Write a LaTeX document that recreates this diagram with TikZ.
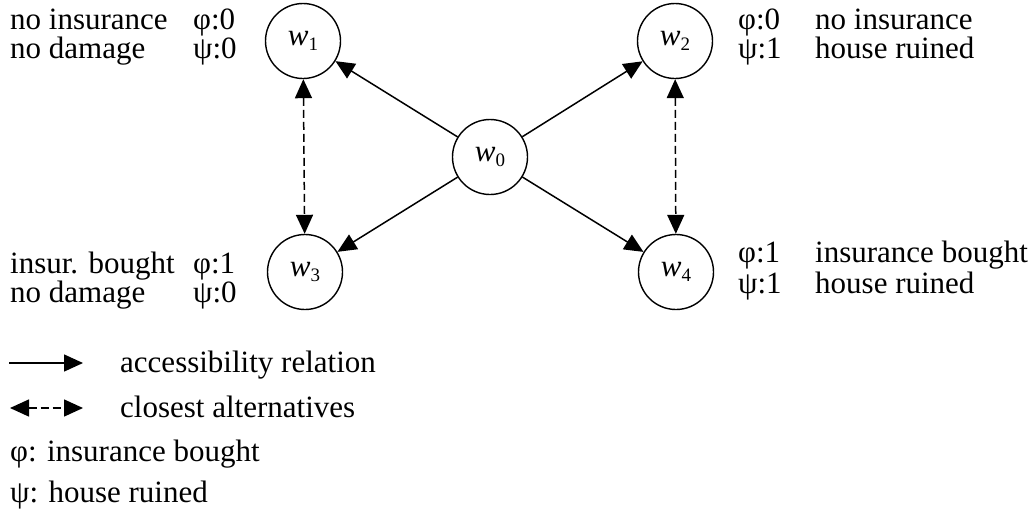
\documentclass[tikz,border=0pt]{standalone}
\usepackage{fontspec}
\setmainfont{Liberation Serif}
\usetikzlibrary{arrows.meta}
\newcommand\wlab[1]{{\fontsize{31}{31}\selectfont\textit{w}\raisebox{-5pt}{\fontsize{19}{19}\selectfont #1}}}
\tikzset{
  world/.style={circle, draw, line width=1.4pt, minimum size=75pt, inner sep=0pt},
  lbl/.style={anchor=base west, inner sep=0pt, font=\fontsize{31}{31}\selectfont},
  acc/.style={-{Triangle[length=19pt,width=17pt]}, line width=1.5pt},
  alt/.style={{Triangle[length=19pt,width=17pt]}-{Triangle[length=19pt,width=17pt]}, line width=1.5pt, dash pattern=on 8pt off 4pt},
}
\begin{document}
\begin{tikzpicture}[x=1pt,y=-1pt]
\useasboundingbox (0,0) rectangle (1035,512);
% worlds
\node[world] (w0) at (490,157) {\wlab{0}};
\node[world] (w1) at (303,41) {\wlab{1}};
\node[world] (w2) at (675,41) {\wlab{2}};
\node[world] (w3) at (305,272) {\wlab{3}};
\node[world] (w4) at (676,272) {\wlab{4}};
% accessibility
\draw[acc] (w0) -- (w1);
\draw[acc] (w0) -- (w2);
\draw[acc] (w0) -- (w3);
\draw[acc] (w0) -- (w4);
% closest alternatives
\draw[alt] (w1) -- (w3);
\draw[alt] (w2) -- (w4);
% labels top left
\node[lbl] (t1a) at (10,29) {no insurance};
\node[lbl] (t1b) at (10,58) {no damage};
\node[lbl] (v1a) at (193,29) {φ:0};
\node[lbl] (v1b) at (193,58) {ψ:0};
% labels top right
\node[lbl] (v2a) at (738,29) {φ:0};
\node[lbl] (v2b) at (738,58) {ψ:1};
\node[lbl] (t2a) at (815,29) {no insurance};
\node[lbl] (t2b) at (815,58) {house ruined};
% labels bottom left
\node[lbl] (t3a) at (10,273) {insur. bought};
\node[lbl] (t3b) at (10,302) {no damage};
\node[lbl] (v3a) at (193,273) {φ:1};
\node[lbl] (v3b) at (193,302) {ψ:0};
% labels bottom right
\node[lbl] (v4a) at (738,262) {φ:1};
\node[lbl] (v4b) at (738,293) {ψ:1};
\node[lbl] (t4a) at (815,262) {insurance bought};
\node[lbl] (t4b) at (815,293) {house ruined};
% legend
\coordinate (la1) at (9,363);
\coordinate (la2) at (83,363);
\coordinate (lb1) at (10,408);
\coordinate (lb2) at (83,408);
\draw[acc] (la1) -- (la2);
\draw[alt] (lb1) -- (lb2);
\node[lbl] (lga) at (120,372) {accessibility relation};
\node[lbl] (lgb) at (120,417) {closest alternatives};
\node[lbl] (lgc) at (10,461) {φ: insurance bought};
\node[lbl] (lgd) at (10,502) {ψ: house ruined};
\end{tikzpicture}
\end{document}
